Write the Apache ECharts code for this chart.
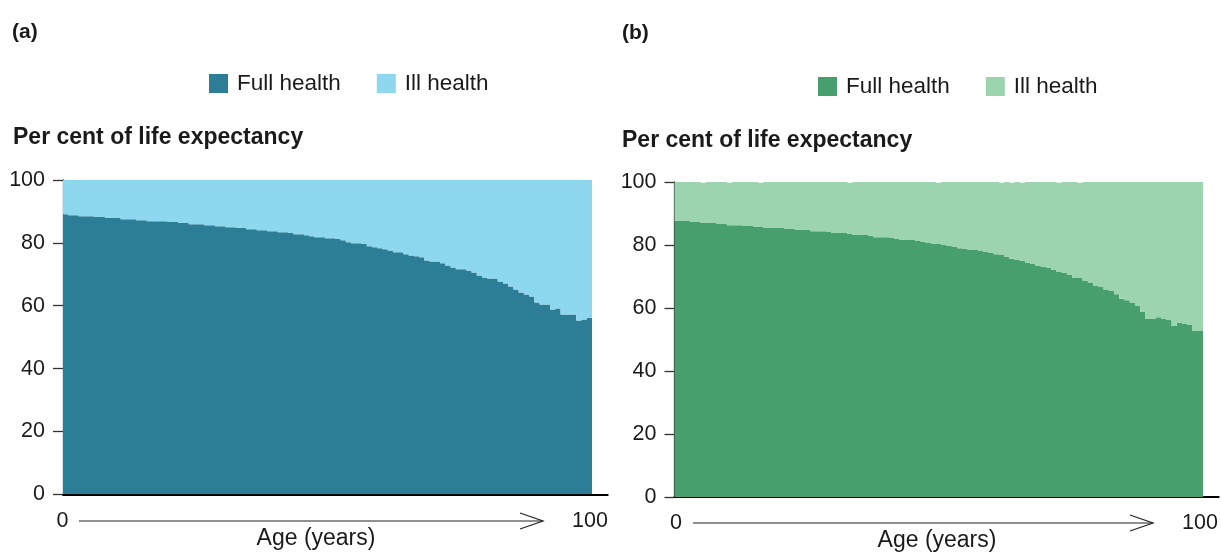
<!DOCTYPE html>
<html>
<head>
<meta charset="utf-8">
<title>Full health and ill health as per cent of life expectancy</title>
<script src="https://cdn.jsdelivr.net/npm/echarts@6/dist/echarts.min.js"></script>
<style>
    html, body { margin: 0; padding: 0; background: #fff; }
    #chart1 { width: 1221px; height: 552px; }
</style>
</head>
<body>
<div id="chart1"></div>
<script>
// ages 0..100, one bar per year
var ages = [];
for (var a = 0; a <= 100; a++) {
    ages.push(String(a));
}
// blank slots so the x axis line runs past the last bar
var padSlots = ['', '', ''];

var yTicks = [0, 20, 40, 60, 80, 100];

// panel (a)
var fullHealthA = [89.1, 88.8, 88.8, 88.5, 88.5, 88.5, 88.2, 88.2, 87.9, 87.9,
    87.9, 87.5, 87.5, 87.5, 87.2, 87.2, 86.9, 86.9, 86.9, 86.9,
    86.6, 86.6, 86.3, 86.3, 85.9, 85.9, 85.9, 85.6, 85.6, 85.3,
    85.3, 85.0, 85.0, 84.7, 84.7, 84.3, 84.3, 84.0, 84.0, 83.7,
    83.7, 83.4, 83.4, 83.1, 82.7, 82.7, 82.4, 82.1, 81.8, 81.8,
    81.5, 81.5, 81.2, 80.8, 80.2, 79.9, 79.9, 79.6, 78.9, 78.6,
    78.3, 78.0, 77.6, 77.0, 77.0, 76.4, 76.0, 75.7, 75.4, 74.4,
    74.1, 74.1, 73.5, 72.8, 72.2, 71.6, 71.6, 71.2, 70.6, 69.6,
    69.0, 68.7, 68.7, 67.7, 67.1, 66.1, 65.2, 64.2, 63.6, 62.9,
    61.0, 60.4, 60.4, 58.8, 59.1, 57.2, 57.2, 57.2, 55.3, 55.6,
    56.2];
var illHealthA = [10.9, 11.2, 11.2, 11.5, 11.5, 11.5, 11.8, 11.8, 12.1, 12.1,
    12.1, 12.5, 12.5, 12.5, 12.8, 12.8, 13.1, 13.1, 13.1, 13.1,
    13.4, 13.4, 13.7, 13.7, 14.1, 14.1, 14.1, 14.4, 14.4, 14.7,
    14.7, 15.0, 15.0, 15.3, 15.3, 15.7, 15.7, 16.0, 16.0, 16.3,
    16.3, 16.6, 16.6, 16.9, 17.3, 17.3, 17.6, 17.9, 18.2, 18.2,
    18.5, 18.5, 18.8, 19.2, 19.8, 20.1, 20.1, 20.4, 21.1, 21.4,
    21.7, 22.0, 22.4, 23.0, 23.0, 23.6, 24.0, 24.3, 24.6, 25.6,
    25.9, 25.9, 26.5, 27.2, 27.8, 28.4, 28.4, 28.8, 29.4, 30.4,
    31.0, 31.3, 31.3, 32.3, 32.9, 33.9, 34.8, 35.8, 36.4, 37.1,
    39.0, 39.6, 39.6, 41.2, 40.9, 42.8, 42.8, 42.8, 44.7, 44.4,
    43.8];

// panel (b)
var fullHealthB = [87.6, 87.6, 87.6, 87.3, 87.3, 87.0, 87.0, 87.0, 86.7, 86.7,
    86.3, 86.3, 86.3, 86.0, 86.0, 85.7, 85.7, 85.4, 85.4, 85.4,
    85.4, 85.1, 85.1, 84.8, 84.8, 84.8, 84.4, 84.4, 84.4, 84.1,
    83.8, 83.8, 83.8, 83.5, 83.2, 83.2, 83.2, 82.9, 82.5, 82.5,
    82.5, 82.2, 81.9, 81.6, 81.6, 81.6, 81.3, 81.0, 80.6, 80.3,
    80.3, 80.0, 79.7, 79.4, 79.0, 78.7, 78.4, 78.4, 78.1, 77.8,
    77.5, 77.1, 76.8, 76.2, 75.6, 75.2, 74.9, 74.3, 74.0, 73.3,
    73.0, 72.7, 72.1, 71.4, 71.1, 70.5, 69.5, 69.5, 68.6, 67.9,
    67.0, 66.7, 65.7, 65.4, 64.4, 62.9, 62.5, 61.6, 60.6, 58.7,
    56.5, 56.5, 57.1, 56.5, 56.2, 54.3, 55.2, 54.9, 54.6, 52.7,
    52.7];
var illHealthB = [12.4, 12.4, 12.4, 12.7, 12.7, 12.75, 13.0, 13.0, 13.3, 13.3,
    13.45, 13.7, 13.7, 14.0, 14.0, 14.3, 14.05, 14.6, 14.6, 14.6,
    14.6, 14.9, 14.9, 15.2, 15.2, 15.2, 15.6, 15.6, 15.6, 15.9,
    16.2, 16.2, 16.2, 16.25, 16.8, 16.8, 16.8, 17.1, 17.5, 17.5,
    17.5, 17.8, 18.1, 18.4, 18.4, 18.4, 18.7, 19.0, 19.4, 19.7,
    19.45, 20.0, 20.3, 20.6, 21.0, 21.3, 21.6, 21.6, 21.9, 22.2,
    22.5, 22.9, 22.95, 23.8, 24.15, 24.8, 24.85, 25.7, 26.0, 26.7,
    27.0, 27.3, 27.9, 28.35, 28.9, 29.5, 30.5, 30.25, 31.4, 32.1,
    33.0, 33.3, 34.3, 34.6, 35.6, 37.1, 37.5, 38.4, 39.4, 41.3,
    43.5, 43.5, 42.9, 43.5, 43.8, 45.7, 44.8, 45.1, 45.4, 47.3,
    47.3];

var fontFamily = '"Liberation Sans", Arial, Helvetica, sans-serif';
var textColor = '#1a1a1a';
var colors = {
    fullA: '#2c7d96', illA: '#8dd8ef',
    fullB: '#469f6d', illB: '#9dd4b0'
};

var chart1 = echarts.init(document.getElementById('chart1'));

function xAxisFor(gridIndex) {
    return {
        type: 'category',
        gridIndex: gridIndex,
        data: ages.concat(padSlots),
        boundaryGap: true,
        axisLine: { show: true, lineStyle: { color: '#000', width: 2 } },
        axisTick: { show: false },
        axisLabel: { show: false },
        splitLine: { show: false }
    };
}

function yAxisFor(gridIndex) {
    return {
        type: 'value',
        gridIndex: gridIndex,
        min: yTicks[0],
        max: yTicks[yTicks.length - 1],
        interval: 20,
        axisLine: { show: true, lineStyle: { color: '#333', width: 1.3 } },
        axisTick: { show: true, inside: false, length: 10, lineStyle: { color: '#333', width: 1.3 } },
        axisLabel: { fontSize: 21.5, color: textColor, fontFamily: fontFamily, margin: 18 },
        splitLine: { show: false }
    };
}

// large mode fills all bars as one path, so no hairline seams between them
function barSeries(name, axisIndex, stack, data, color) {
    return {
        name: name,
        type: 'bar',
        stack: stack,
        xAxisIndex: axisIndex,
        yAxisIndex: axisIndex,
        data: data,
        large: true,
        largeThreshold: 50,
        barCategoryGap: '0%',
        barGap: '0%',
        itemStyle: { color: color },
        emphasis: { disabled: true }
    };
}

function legendFor(left, top, names) {
    return {
        left: left,
        top: top,
        padding: 0,
        orient: 'horizontal',
        itemWidth: 19,
        itemHeight: 19,
        itemGap: 36,
        icon: 'rect',
        selectedMode: false,
        data: names,
        formatter: function (name) {
            return name.replace(/ \([ab]\)$/, '');
        },
        textStyle: { fontSize: 22.5, color: textColor, fontFamily: fontFamily, padding: [0, 0, 0, 4] }
    };
}

function label(x, y, text, size, bold, align) {
    return {
        type: 'text',
        x: x,
        y: y,
        style: {
            text: text,
            fontSize: size,
            fontWeight: bold ? 'bold' : 'normal',
            fontFamily: fontFamily,
            fill: textColor,
            align: align || 'left',
            verticalAlign: 'middle'
        }
    };
}

function arrow(x0, x1, y) {
    return [{
        type: 'line',
        shape: { x1: x0, y1: y, x2: x1, y2: y },
        style: { stroke: '#222', lineWidth: 1.2 }
    }, {
        type: 'polyline',
        shape: { points: [[x1 - 23, y - 8], [x1, y], [x1 - 23, y + 8]] },
        style: { stroke: '#222', lineWidth: 1.2, fill: null }
    }];
}

var graphics = [
    label(12, 32, '(a)', 21, true),
    label(622, 33, '(b)', 21, true),
    label(13, 138, 'Per cent of life expectancy', 23, true),
    label(622, 141, 'Per cent of life expectancy', 23, true),
    label(62.5, 521, '0', 21.5, false, 'center'),
    label(590, 521, '100', 21.5, false, 'center'),
    label(316, 539, 'Age (years)', 23, false, 'center'),
    label(676, 523, '0', 21.5, false, 'center'),
    label(1200, 523, '100', 21.5, false, 'center'),
    label(937, 541, 'Age (years)', 23, false, 'center')
].concat(arrow(79, 543, 521), arrow(693, 1153, 523));

var option = {
    animation: false,
    backgroundColor: '#fff',
    legend: [
        legendFor(209, 72, ['Full health (a)', 'Ill health (a)']),
        legendFor(818, 75, ['Full health (b)', 'Ill health (b)'])
    ],
    grid: [
        { left: 63, top: 180, width: 544.7, height: 314.3 },
        { left: 674.5, top: 182, width: 544.2, height: 315 }
    ],
    xAxis: [xAxisFor(0), xAxisFor(1)],
    yAxis: [yAxisFor(0), yAxisFor(1)],
    series: [
        barSeries('Full health (a)', 0, 'a', fullHealthA, colors.fullA),
        barSeries('Ill health (a)', 0, 'a', illHealthA, colors.illA),
        barSeries('Full health (b)', 1, 'b', fullHealthB, colors.fullB),
        barSeries('Ill health (b)', 1, 'b', illHealthB, colors.illB)
    ],
    graphic: graphics
};
chart1.setOption(option, true);
</script>
</body>
</html>
